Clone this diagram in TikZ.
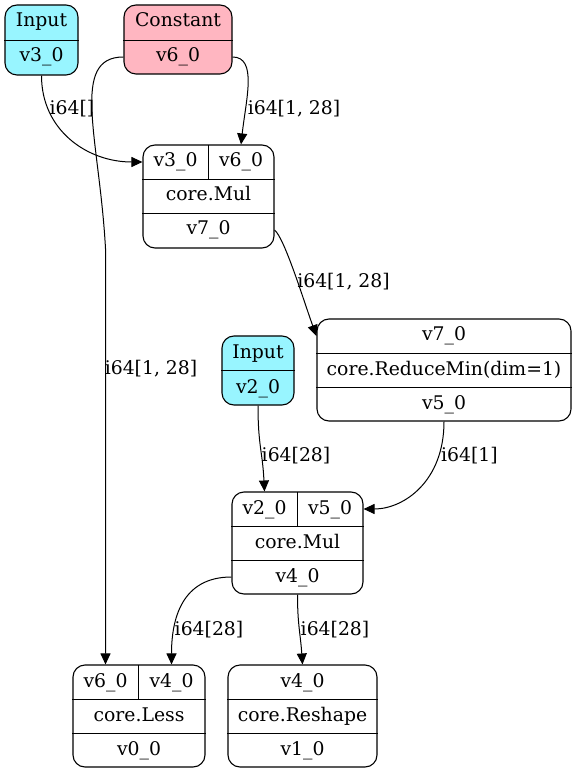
\documentclass[tikz,border=0pt]{standalone}
\usepackage{fontspec}
\setmainfont{DejaVu Serif}
\usetikzlibrary{arrows.meta}
\definecolor{inputfill}{HTML}{98F5FF}
\definecolor{constfill}{HTML}{FFB6C1}
\begin{document}
\begin{tikzpicture}[x=0.5pt,y=-0.5pt,
  every node/.style={font=\fontsize{9.4}{11}\selectfont},
  rec/.style={draw, line width=0.55pt, rounded corners=6pt, inner sep=0pt},
  cell/.style={inner sep=0pt, text height=0.72em, text depth=0.22em},
  div/.style={line width=0.45pt},
  lbl/.style={inner sep=0pt, text height=0.72em, text depth=0.22em},
  wire/.style={line width=0.5pt, -{Triangle[length=5.5pt,width=5pt]}}]
\useasboundingbox (0,0) rectangle (576,774);

% Input v3_0
\node[rec, fill=inputfill, minimum width=36.5pt, minimum height=35pt] (in3) at (41.5,40) {};
\draw[div] (in3.west |- 0,40) -- (in3.east |- 0,40);
\node[cell] (in3t) at (41.5,22) {Input};
\node[cell] (in3v) at (41.5,57) {v3\_0};

% Constant v6_0
\node[rec, fill=constfill, minimum width=54pt, minimum height=34.5pt] (cst) at (178,39.5) {};
\draw[div] (cst.west |- 0,40) -- (cst.east |- 0,40);
\node[cell] (cstt) at (178,22) {Constant};
\node[cell] (cstv) at (178,57) {v6\_0};

% core.Mul (v7_0)
\node[rec, minimum width=65.5pt, minimum height=51.5pt] (mul1) at (208.5,196.5) {};
\draw[div] (mul1.west |- 0,179) -- (mul1.east |- 0,179);
\draw[div] (mul1.west |- 0,213) -- (mul1.east |- 0,213);
\draw[div] (208,145) -- (208,179);
\node[cell] (m1a) at (175.5,162) {v3\_0};
\node[cell] (m1b) at (241,162) {v6\_0};
\node[cell] (m1op) at (208.5,196) {core.Mul};
\node[cell] (m1o) at (208.5,230) {v7\_0};

% core.ReduceMin
\node[rec, minimum width=127pt, minimum height=51pt] (red) at (444,370) {};
\draw[div] (red.west |- 0,353) -- (red.east |- 0,353);
\draw[div] (red.west |- 0,387) -- (red.east |- 0,387);
\node[cell] (r1) at (444,336) {v7\_0};
\node[cell] (rop) at (444,370) {core.ReduceMin(dim=1)};
\node[cell] (ro) at (444,404) {v5\_0};

% Input v2_0
\node[rec, fill=inputfill, minimum width=36pt, minimum height=34.5pt] (in2) at (258,370.5) {};
\draw[div] (in2.west |- 0,370.5) -- (in2.east |- 0,370.5);
\node[cell] (in2t) at (258,353) {Input};
\node[cell] (in2v) at (258,388) {v2\_0};

% core.Mul (v4_0)
\node[rec, minimum width=65.5pt, minimum height=51pt] (mul2) at (297.5,543) {};
\draw[div] (mul2.west |- 0,526) -- (mul2.east |- 0,526);
\draw[div] (mul2.west |- 0,560) -- (mul2.east |- 0,560);
\draw[div] (297,492) -- (297,526);
\node[cell] (n1) at (264.5,509) {v2\_0};
\node[cell] (n2) at (330,509) {v5\_0};
\node[cell] (nop) at (297.5,543) {core.Mul};
\node[cell] (n4) at (297.5,577) {v4\_0};

% core.Less
\node[rec, minimum width=66pt, minimum height=51pt] (less) at (139,716) {};
\draw[div] (less.west |- 0,699) -- (less.east |- 0,699);
\draw[div] (less.west |- 0,733) -- (less.east |- 0,733);
\draw[div] (138,665) -- (138,699);
\node[cell] (l1) at (105.5,682) {v6\_0};
\node[cell] (l2) at (171.5,682) {v4\_0};
\node[cell] (lop) at (139,716) {core.Less};
\node[cell] (lo) at (139,750) {v0\_0};

% core.Reshape
\node[rec, minimum width=74.5pt, minimum height=51pt] (resh) at (302.5,716) {};
\draw[div] (resh.west |- 0,699) -- (resh.east |- 0,699);
\draw[div] (resh.west |- 0,733) -- (resh.east |- 0,733);
\node[cell] (s1) at (302.5,682) {v4\_0};
\node[cell] (sop) at (302.5,716) {core.Reshape};
\node[cell] (so) at (302.5,750) {v1\_0};

% connectors
\draw[wire] (in3.south) .. controls +(0,55) and +(-55,0) .. (mul1.west |- m1a);
\draw[wire] (cst.west |- cstv) .. controls +(-54,0) and +(-6,-110) .. (l1 |- mul1.south) -- (l1 |- less.north);
\draw[wire] (cst.east |- cstv) .. controls +(25,0) and +(5,-45) .. (m1b |- mul1.north);
\draw[wire] (mul1.east |- m1o) .. controls +(10,8) and +(-12,-33) .. (red.west |- r1);
\draw[wire] (in2.south) .. controls +(0,40) and +(-2,-40) .. (n1 |- mul2.north);
\draw[wire] (red.south) .. controls +(0,60) and +(40,0) .. (mul2.east |- n2);
\draw[wire] (mul2.west |- n4) .. controls +(-50,0) and +(0,-45) .. (l2 |- less.north);
\draw[wire] (mul2.south) .. controls +(0,30) and +(-2,-30) .. (resh.north);

% edge labels
\node[lbl] (e1) at (72,110) {i64[]};
\node[lbl] (e2) at (151,369) {i64[1, 28]};
\node[lbl] (e3) at (294,110) {i64[1, 28]};
\node[lbl] (e4) at (343.5,283) {i64[1, 28]};
\node[lbl] (e5) at (296,456) {i64[28]};
\node[lbl] (e6) at (469.5,456) {i64[1]};
\node[lbl] (e7) at (209,630) {i64[28]};
\node[lbl] (e8) at (335,630) {i64[28]};
\end{tikzpicture}
\end{document}
